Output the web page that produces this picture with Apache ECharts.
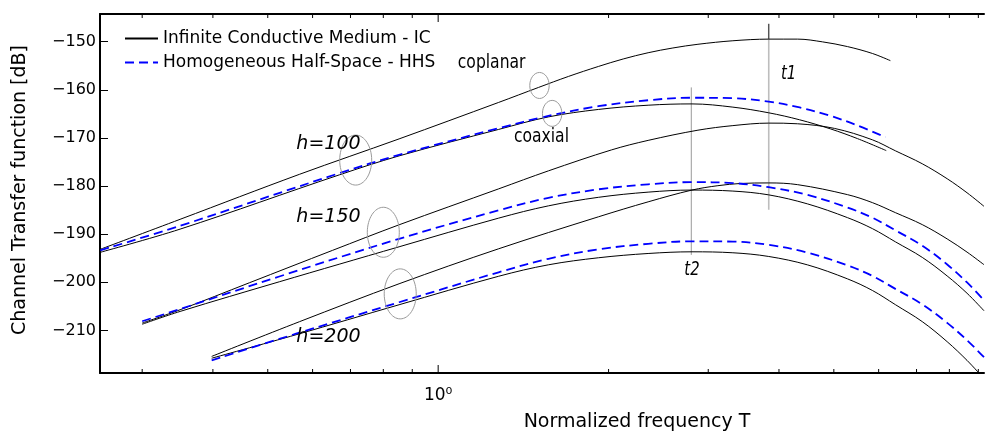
<!DOCTYPE html>
<html>
<head>
<meta charset="utf-8">
<script src="https://cdn.jsdelivr.net/npm/echarts@6/dist/echarts.min.js"></script>
<style>
  html, body { margin: 0; padding: 0; background: #ffffff; }
  #chart { width: 987px; height: 433px; }
</style>
</head>
<body>
<div id="chart"></div>
<script>
// Channel transfer function [dB] against normalized frequency T (log axis)
const xMin = 0.2527, xMax = 9.21;
const yMin = -218.84, yMax = -144.25;

const IC = 'Infinite Conductive Medium - IC';
const HHS = 'Homogeneous Half-Space - HHS';

// h = 100
const coplanarIC100 = [[0.253,-193.14],[0.350,-186.91],[0.5685,-177.57],[0.853,-170.2],[1.279,-162.62],[1.504,-159.51],[1.699,-157.22],[1.919,-155.15],[2.123,-153.59],[2.349,-152.3],[2.598,-151.31],[2.877,-150.54],[3.316,-149.81],[3.837,-149.47],[4.316,-149.47],[4.776,-150.04],[5.285,-151.02],[5.849,-152.45],[6.293,-153.94]];
const coaxialHHS100 = [[0.253,-193.35],[0.350,-188.26],[0.669,-177.32],[0.853,-173.52],[1.279,-167.98],[1.566,-165.42],[1.919,-163.41],[2.349,-162.17],[2.797,-161.65],[3.316,-161.75],[3.837,-162.46],[4.350,-163.66],[4.932,-165.42],[5.505,-167.4],[6.166,-169.85]];
const coaxialIC100  = [[0.253,-193.76],[0.350,-188.95],[0.669,-177.67],[0.853,-173.73],[1.279,-168.23],[1.566,-165.63],[1.919,-164.08],[2.349,-163.2],[2.808,-162.93],[3.316,-163.6],[3.837,-164.78],[4.350,-166.23],[4.932,-168.12],[5.505,-170.14],[6.188,-172.63]];

// h = 150
const coplanarIC150 = [[0.300,-208.46],[0.350,-205.7],[0.464,-200.09],[0.651,-193.35],[0.853,-188.05],[1.279,-180.58],[1.566,-176.84],[2.025,-172.48],[2.349,-170.51],[2.877,-168.39],[3.316,-167.44],[3.837,-166.92],[4.316,-167.06],[5.013,-168.02],[5.849,-170.39],[6.422,-172.67],[7.165,-175.37],[7.929,-178.48],[8.596,-181.39],[9.21,-184.21]];
const coaxialHHS150 = [[0.300,-208.09],[0.350,-205.55],[0.524,-198.79],[0.853,-190.96],[1.279,-185.04],[1.566,-182.45],[1.919,-180.68],[2.349,-179.64],[2.797,-179.19],[3.316,-179.38],[3.837,-180.23],[4.494,-181.85],[5.285,-184.46],[5.849,-186.58],[6.422,-189.19],[7.165,-192.39],[7.929,-196.29],[8.596,-200.03],[9.21,-203.73]];
const coaxialIC150  = [[0.300,-208.71],[0.350,-206.05],[0.524,-199.89],[0.853,-192.62],[1.279,-186.66],[1.566,-184.11],[1.919,-182.34],[2.349,-181.26],[2.808,-180.83],[3.316,-181.04],[3.837,-181.83],[4.494,-183.71],[5.285,-186.56],[5.849,-188.84],[6.422,-191.58],[7.165,-194.82],[7.929,-198.68],[8.596,-202.27],[9.21,-205.91]];

// h = 200
const coplanarIC200 = [[0.398,-215.39],[0.5685,-208.19],[0.853,-200.3],[1.279,-193.03],[1.919,-186.39],[2.349,-183.28],[2.808,-180.83],[3.120,-179.92],[3.425,-179.46],[3.837,-179.35],[4.316,-179.71],[5.285,-181.78],[5.849,-183.44],[6.422,-185.52],[7.165,-188.01],[7.929,-190.98],[8.596,-193.72],[9.21,-196.34]];
const coaxialHHS200 = [[0.398,-216.22],[0.561,-210.68],[0.853,-204.14],[1.279,-197.91],[1.566,-195.11],[1.919,-193.14],[2.349,-192.0],[2.797,-191.48],[3.316,-191.54],[3.837,-192.21],[4.494,-193.82],[5.285,-196.48],[5.849,-198.66],[6.422,-201.36],[7.165,-204.58],[7.929,-208.42],[8.596,-212.03],[9.21,-215.56]];
const coaxialIC200  = [[0.398,-215.77],[0.561,-210.89],[0.853,-204.66],[1.279,-198.74],[1.566,-196.36],[1.919,-194.9],[2.349,-194.01],[2.808,-193.66],[3.316,-193.86],[3.837,-194.63],[4.494,-196.38],[5.285,-199.28],[5.849,-201.69],[6.422,-204.64],[7.165,-208.17],[7.929,-212.34],[8.596,-216.22],[9.21,-220.0]];

// peak markers t1 (coplanar) and t2 (coaxial)
const t1Line = [[3.837,-146.3],[3.837,-184.9]];
const t1Cap  = [[3.837,-146.3],[3.837,-149.4]];
const t2Line = [[2.80,-159.5],[2.80,-194.3]];

// frequency axis tick values
const freqTicks = [0.3,0.4,0.5,0.6,0.7,0.8,0.9,1,2,3,4,5,6,7,8,9];
const majorFreqTicks = [1];

// ellipse centres
const groupRings = [[0.715,-174.6],[0.800,-189.6],[0.857,-202.4]];
const modeRings  = [[1.510,-159.1],[1.590,-164.9]];

// annotation anchors
const heightNotes = [['h=100',0.640,-171.2],['h=150',0.640,-186.5],['h=200',0.640,-211.4]];
const peakNotes   = [['t1',4.16,-156.7],['t2',2.808,-197.4]];
const modeNotes   = [['coplanar',1.243,-154.4],['coaxial',1.522,-169.9]];

const FONT = '"DejaVu Sans", "Noto Sans", sans-serif';
const SMOOTH = 0.35;

function icSeries(data) {
  return { name: IC, type: 'line', data: data, symbol: 'none', smooth: SMOOTH,
    lineStyle: { color: '#000000', width: 1 }, itemStyle: { color: '#000000' },
    z: 3, silent: true };
}
function hhsSeries(data) {
  return { name: HHS, type: 'line', data: data, symbol: 'none', smooth: SMOOTH,
    lineStyle: { color: '#0000ff', width: 1.8, type: [9, 5] }, itemStyle: { color: '#0000ff' },
    z: 4, silent: true };
}
function guideSeries(name, data, color, width) {
  return { name: name, type: 'line', data: data, symbol: 'none',
    lineStyle: { color: color, width: width }, z: 2, silent: true };
}
function ringSeries(name, data, rx, ry) {
  return {
    name: name, type: 'custom', silent: true, z: 5,
    data: data, encode: { x: 0, y: 1 },
    renderItem: function (params, api) {
      const c = api.coord([api.value(0), api.value(1)]);
      return { type: 'ellipse', shape: { cx: c[0], cy: c[1], rx: rx, ry: ry },
        style: { fill: 'none', stroke: '#9a9a9a', lineWidth: 1 } };
    }
  };
}
function noteSeries(name, data, font, squeeze) {
  return {
    name: name, type: 'custom', silent: true, z: 6,
    data: data.map(function (d) { return [d[1], d[2], d[0]]; }),
    encode: { x: 0, y: 1 },
    renderItem: function (params, api) {
      const d = data[params.dataIndex];
      const c = api.coord([d[1], d[2]]);
      return { type: 'text', x: c[0], y: c[1], scaleX: squeeze, scaleY: 1,
        style: { text: d[0], font: font, fill: '#000000',
          align: 'center', verticalAlign: 'middle', textAlign: 'center', textVerticalAlign: 'middle' } };
    }
  };
}

const chart = echarts.init(document.getElementById('chart'), null, { renderer: 'canvas' });

chart.setOption({
  animation: false,
  backgroundColor: '#ffffff',
  grid: { left: 100, right: 0, top: 14, bottom: 60, containLabel: false },
  legend: {
    orient: 'vertical', left: 119, top: 25,
    itemWidth: 33, itemHeight: 14, itemGap: 7,
    selectedMode: false,
    textStyle: { fontFamily: FONT, fontSize: 17, color: '#000000', lineHeight: 17 },
    data: [
      { name: IC, lineStyle: { width: 2, color: '#000000' }, itemStyle: { opacity: 0 } },
      { name: HHS, lineStyle: { width: 2, color: '#0000ff', type: [9, 5] }, itemStyle: { opacity: 0 } }
    ]
  },
  xAxis: [
    {
      type: 'log', logBase: 10, min: xMin, max: xMax, position: 'bottom',
      axisLine: { show: true, onZero: false, lineStyle: { color: '#000000', width: 2 } },
      axisTick: { show: false }, minorTick: { show: false },
      splitLine: { show: false }, minorSplitLine: { show: false },
      axisLabel: {
        show: true, margin: 14, color: '#000000', fontFamily: FONT, fontSize: 17,
        formatter: function (v) { return Math.abs(v - 1) < 1e-6 ? '10\u2070' : ''; }
      }
    },
    {
      type: 'log', logBase: 10, min: xMin, max: xMax, position: 'top',
      axisLine: { show: true, onZero: false, lineStyle: { color: '#000000', width: 2 } },
      axisTick: { show: false }, axisLabel: { show: false }, splitLine: { show: false }
    }
  ],
  yAxis: {
    type: 'value', min: yMin, max: yMax,
    axisLine: { show: true, onZero: false, lineStyle: { color: '#000000', width: 2 } },
    axisTick: { show: true, inside: true, length: 8, lineStyle: { color: '#000000', width: 1 } },
    splitLine: { show: false },
    axisLabel: {
      show: true, margin: 4, color: '#000000', fontFamily: FONT, fontSize: 16,
      formatter: function (v) {
        const k = v / 10;
        if (Math.abs(k - Math.round(k)) > 1e-6) return '';
        return (v < 0 ? '\u2212' : '') + Math.abs(Math.round(v));
      }
    }
  },
  graphic: [
    { type: 'text', x: 637, y: 422,
      style: { text: 'Normalized frequency T', font: '19px ' + FONT, fill: '#000000',
        align: 'center', verticalAlign: 'middle' } },
    { type: 'text', x: 20, y: 190, rotation: Math.PI / 2,
      style: { text: 'Channel Transfer function [dB]', font: '19px ' + FONT, fill: '#000000',
        align: 'center', verticalAlign: 'middle' } }
  ],
  series: [
    guideSeries('t1', t1Line, '#bdbdbd', 1.6),
    guideSeries('t1cap', t1Cap, '#333333', 1),
    guideSeries('t2', t2Line, '#999999', 1),
    icSeries(coplanarIC100),
    icSeries(coaxialIC100),
    hhsSeries(coaxialHHS100),
    icSeries(coplanarIC150),
    icSeries(coaxialIC150),
    hhsSeries(coaxialHHS150),
    icSeries(coplanarIC200),
    icSeries(coaxialIC200),
    hhsSeries(coaxialHHS200),
    ringSeries('groupRings', groupRings, 16, 25),
    ringSeries('modeRings', modeRings, 9.7, 13),
    noteSeries('heights', heightNotes, 'italic 19px ' + FONT, 1),
    noteSeries('peaks', peakNotes, 'italic 19px ' + FONT, 0.78),
    noteSeries('modes', modeNotes, '19px ' + FONT, 0.82),
    {
      name: 'freqTicks', type: 'custom', silent: true, z: 7,
      data: freqTicks.map(function (t) { return [t, yMin]; }),
      encode: { x: 0, y: 1 },
      renderItem: function (params, api) {
        const t = api.value(0);
        const b = api.coord([t, yMin]);
        const u = api.coord([t, yMax]);
        const len = majorFreqTicks.indexOf(t) >= 0 ? 8 : 4;
        const st = { stroke: '#000000', lineWidth: 1 };
        return { type: 'group', children: [
          { type: 'line', shape: { x1: b[0], y1: b[1], x2: b[0], y2: b[1] - len }, style: st },
          { type: 'line', shape: { x1: u[0], y1: u[1], x2: u[0], y2: u[1] + len }, style: st }
        ] };
      }
    }
  ]
});
</script>
</body>
</html>
